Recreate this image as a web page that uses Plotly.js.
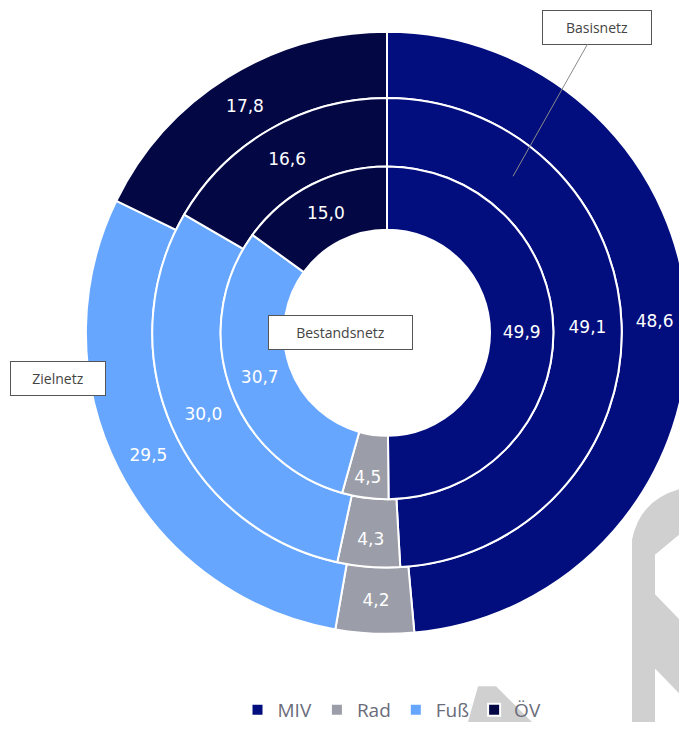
<!DOCTYPE html>
<html>
<head>
<meta charset="utf-8">
<script src="https://cdn.plot.ly/plotly-3.0.1.min.js"></script>
<style>
  html, body { margin: 0; padding: 0; overflow: hidden; background: #ffffff; }
  #chart { width: 700px; height: 729px; }
</style>
</head>
<body>
<div id="chart"></div>
<script>
// ---- data ----
const categories = ["MIV", "Rad", "Fuß", "ÖV"];
const bestandsnetz = [49.9, 4.5, 30.7, 15.0];   // inner ring
const basisnetz    = [49.1, 4.3, 30.0, 16.6];   // middle ring
const zielnetz     = [48.6, 4.2, 29.5, 17.8];   // outer ring
const ringNames    = ["Zielnetz", "Basisnetz", "Bestandsnetz"];

const colors = ["#030e7e", "#9b9ea8", "#66a6ff", "#030845"];

const W = 700, H = 729;
const cx = 387, cy = 336;
function dom(r) {
  return {
    x: [(cx - r) / W, (cx + r) / W],
    y: [(H - cy - r) / H, (H - cy + r) / H]
  };
}
function P(x, y) { return (x / W).toFixed(4) + "," + ((H - y) / H).toFixed(4); }

function ring(values, name, r, hole) {
  return {
    type: "pie",
    name: name,
    labels: categories,
    values: values,
    domain: dom(r),
    hole: hole,
    sort: false,
    direction: "clockwise",
    rotation: 0,
    marker: { colors: colors, line: { color: "#ffffff", width: 2 } },
    texttemplate: "%{value:.1f}",
    textposition: "inside",
    insidetextorientation: "horizontal",
    textfont: { color: "#ffffff", size: 17, family: "DejaVu Sans, sans-serif" },
    hoverinfo: "label+value+name"
  };
}

const data = [
  ring(zielnetz, ringNames[0], 304, 237 / 304),
  ring(basisnetz, ringNames[1], 237, 168 / 237),
  ring(bestandsnetz, ringNames[2], 168, 104 / 168)
];

const boxFont = { family: "Open Sans, sans-serif", size: 14, color: "#444444" };

const layout = {
  width: W, height: H, autosize: false,
  margin: { l: 0, r: 0, t: 0, b: 0 },
  paper_bgcolor: "#ffffff",
  separators: ",.",
  showlegend: true,
  legend: {
    orientation: "h",
    x: 392 / W, xanchor: "center",
    y: (H - 717) / H, yanchor: "middle",
    bgcolor: "rgba(0,0,0,0)",
    itemwidth: 30,
    font: { family: "Open Sans, sans-serif", size: 19, color: "#6a6c7a" },
    traceorder: "normal"
  },
  shapes: [
    { type: "path", xref: "paper", yref: "paper", layer: "below",
      path: "M" + P(632, 545) + "Q" + P(640, 505) + " " + P(679, 494) + "L" + P(679, 540) +
            "L" + P(655, 560) + "L" + P(655, 729) + "L" + P(632, 729) + "Z",
      fillcolor: "#d0d0d0", line: { width: 0 } },
    { type: "path", xref: "paper", yref: "paper", layer: "below",
      path: "M" + P(655, 600) + "L" + P(679, 625) + "L" + P(679, 700) + "L" + P(655, 675) + "Z",
      fillcolor: "#d0d0d0", line: { width: 0 } },
    { type: "path", xref: "paper", yref: "paper", layer: "below",
      path: "M" + P(478, 693) + "L" + P(496, 693) + "L" + P(532, 729) + "L" + P(468, 729) + "Z",
      fillcolor: "#d0d0d0", line: { width: 0 } }
  ],
  annotations: [
    { text: "Basisnetz", xref: "paper", yref: "paper",
      x: 513 / W, y: (H - 178) / H, ax: 84, ay: -149,
      showarrow: true, arrowhead: 0, arrowwidth: 1, arrowcolor: "#8a8a8a",
      bgcolor: "#ffffff", bordercolor: "#555555", borderwidth: 1, borderpad: 7,
      width: 94, height: 19, font: boxFont },
    { text: "Bestandsnetz", xref: "paper", yref: "paper",
      x: 340 / W, y: (H - 336) / H, xanchor: "center", yanchor: "middle", showarrow: false,
      bgcolor: "#ffffff", bordercolor: "#555555", borderwidth: 1, borderpad: 7,
      width: 129, height: 19, font: boxFont },
    { text: "Zielnetz", xref: "paper", yref: "paper",
      x: 58 / W, y: (H - 382) / H, xanchor: "center", yanchor: "middle", showarrow: false,
      bgcolor: "#ffffff", bordercolor: "#555555", borderwidth: 1, borderpad: 7,
      width: 80, height: 19, font: boxFont }
  ]
};

Plotly.newPlot("chart", data, layout, { displayModeBar: false, staticPlot: true });
</script>
</body>
</html>
